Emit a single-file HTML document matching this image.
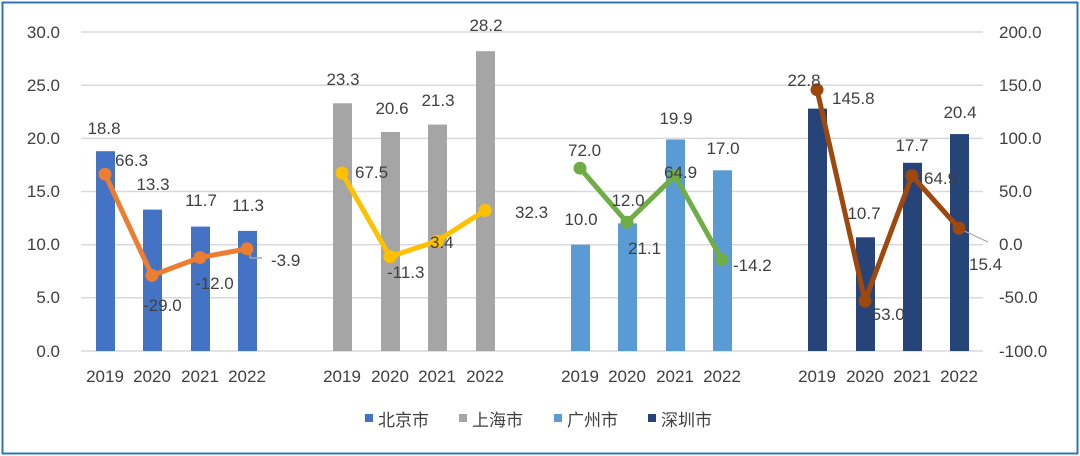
<!DOCTYPE html>
<html><head><meta charset="utf-8"><style>
html,body{margin:0;padding:0;background:#fff;}
svg{display:block;}
text{font-family:"Liberation Sans","Noto Sans CJK SC",sans-serif;fill:#404040;}
</style></head><body>
<svg width="1080" height="456" viewBox="0 0 1080 456">
<rect x="2.5" y="2.5" width="1075" height="451" fill="#fff" stroke="#2E75B6" stroke-width="2"/>
<g stroke="#D9D9D9" stroke-width="1.5">
<line x1="81" y1="32" x2="983" y2="32"/><line x1="81" y1="85.2" x2="983" y2="85.2"/>
<line x1="81" y1="138.4" x2="983" y2="138.4"/><line x1="81" y1="191.5" x2="983" y2="191.5"/>
<line x1="81" y1="244.7" x2="983" y2="244.7"/><line x1="81" y1="297.8" x2="983" y2="297.8"/>
<line x1="81" y1="351" x2="983" y2="351"/>
</g>
<g font-size="17" text-anchor="end">
<text x="60" y="38">30.0</text><text x="60" y="91">25.0</text><text x="60" y="144">20.0</text>
<text x="60" y="197">15.0</text><text x="60" y="250">10.0</text><text x="60" y="303">5.0</text><text x="60" y="357">0.0</text>
</g>
<g font-size="17" text-anchor="start">
<text x="999" y="38">200.0</text><text x="999" y="91">150.0</text><text x="999" y="144">100.0</text>
<text x="999" y="197">50.0</text><text x="999" y="250">0.0</text><text x="999" y="303">-50.0</text><text x="999" y="357">-100.0</text>
</g>
<g fill="#4472C4">
<rect x="96" y="151.2" width="19" height="199.8"/><rect x="143" y="209.6" width="19" height="141.4"/>
<rect x="191" y="226.6" width="19" height="124.4"/><rect x="238" y="230.9" width="19" height="120.1"/>
</g>
<g fill="#A5A5A5">
<rect x="333" y="103.3" width="19" height="247.7"/><rect x="381" y="132" width="19" height="219"/>
<rect x="428" y="124.6" width="19" height="226.4"/><rect x="476" y="51.2" width="19" height="299.8"/>
</g>
<g fill="#5B9BD5">
<rect x="571" y="244.7" width="19" height="106.3"/><rect x="618" y="223.4" width="19" height="127.6"/>
<rect x="666" y="139.5" width="19" height="211.5"/><rect x="713" y="170.3" width="19" height="180.7"/>
</g>
<g fill="#264478">
<rect x="808" y="108.6" width="19" height="242.4"/><rect x="856" y="237.3" width="19" height="113.7"/>
<rect x="903" y="162.8" width="19" height="188.2"/><rect x="950" y="134.1" width="19" height="216.9"/>
</g>
<line x1="250" y1="252" x2="250" y2="258" stroke="#A5A5A5" stroke-width="1.5"/>
<line x1="250" y1="258" x2="262" y2="258" stroke="#A5A5A5" stroke-width="1.5"/>
<line x1="960" y1="229" x2="988" y2="242" stroke="#A5A5A5" stroke-width="1.2"/>
<g stroke-width="5" fill="none" stroke-linejoin="round">
<polyline stroke="#ED7D31" points="105,174.2 152,275.5 200,257.5 247,248.8"/>
<polyline stroke="#FFC000" points="342,173 390,256.7 437,241.1 485,210.4"/>
<polyline stroke="#70AD47" points="580,168.2 627,222.3 675,175.7 722,259.8"/>
<polyline stroke="#9E480E" points="817,89.7 865,301 912,175.7 959,228.3"/>
</g>
<g fill="#ED7D31"><circle cx="105" cy="174.2" r="6.5"/><circle cx="152" cy="275.5" r="6.5"/><circle cx="200" cy="257.5" r="6.5"/><circle cx="247" cy="248.8" r="6.5"/></g>
<g fill="#FFC000"><circle cx="342" cy="173" r="6.5"/><circle cx="390" cy="256.7" r="6.5"/><circle cx="437" cy="241.1" r="6.5"/><circle cx="485" cy="210.4" r="6.5"/></g>
<g fill="#70AD47"><circle cx="580" cy="168.2" r="6.5"/><circle cx="627" cy="222.3" r="6.5"/><circle cx="675" cy="175.7" r="6.5"/><circle cx="722" cy="259.8" r="6.5"/></g>
<g fill="#9E480E"><circle cx="817" cy="89.7" r="6.5"/><circle cx="865" cy="301" r="6.5"/><circle cx="912" cy="175.7" r="6.5"/><circle cx="959" cy="228.3" r="6.5"/></g>
<g font-size="17" text-anchor="middle">
<text x="104" y="134">18.8</text><text x="153" y="190">13.3</text><text x="201" y="206">11.7</text><text x="248" y="211">11.3</text>
<text x="343" y="85">23.3</text><text x="392" y="114">20.6</text><text x="438" y="106">21.3</text><text x="486" y="31">28.2</text>
<text x="581" y="225">10.0</text><text x="628" y="206">12.0</text><text x="676" y="124">19.9</text><text x="723" y="154">17.0</text>
<text x="804" y="86">22.8</text><text x="864" y="219">10.7</text><text x="912" y="151">17.7</text><text x="960" y="118">20.4</text>
</g>
<g font-size="17" text-anchor="start">
<text x="115" y="166">66.3</text><text x="143" y="311">-29.0</text><text x="195" y="289">-12.0</text><text x="271" y="266">-3.9</text>
<text x="355" y="178">67.5</text><text x="387" y="278">-11.3</text><text x="430" y="248">3.4</text><text x="515" y="218">32.3</text>
<text x="568" y="156">72.0</text><text x="628" y="254">21.1</text><text x="664" y="178">64.9</text><text x="733" y="271">-14.2</text>
<text x="832" y="104">145.8</text><text x="924" y="184">64.9</text><text x="866" y="320">-53.0</text><text x="969" y="270">15.4</text>
</g>
<g font-size="17" text-anchor="middle">
<text x="105" y="382">2019</text><text x="152" y="382">2020</text><text x="200" y="382">2021</text><text x="247" y="382">2022</text>
<text x="342" y="382">2019</text><text x="390" y="382">2020</text><text x="437" y="382">2021</text><text x="485" y="382">2022</text>
<text x="580" y="382">2019</text><text x="627" y="382">2020</text><text x="675" y="382">2021</text><text x="722" y="382">2022</text>
<text x="817" y="382">2019</text><text x="865" y="382">2020</text><text x="912" y="382">2021</text><text x="959" y="382">2022</text>
</g>
<rect x="365" y="414" width="8" height="8" fill="#4472C4"/><text x="378" y="426" font-size="17">北京市</text>
<rect x="459" y="414" width="8" height="8" fill="#A5A5A5"/><text x="472" y="426" font-size="17">上海市</text>
<rect x="554" y="414" width="8" height="8" fill="#5B9BD5"/><text x="567" y="426" font-size="17">广州市</text>
<rect x="648" y="414" width="8" height="8" fill="#264478"/><text x="661" y="426" font-size="17">深圳市</text>
</svg>
</body></html>
